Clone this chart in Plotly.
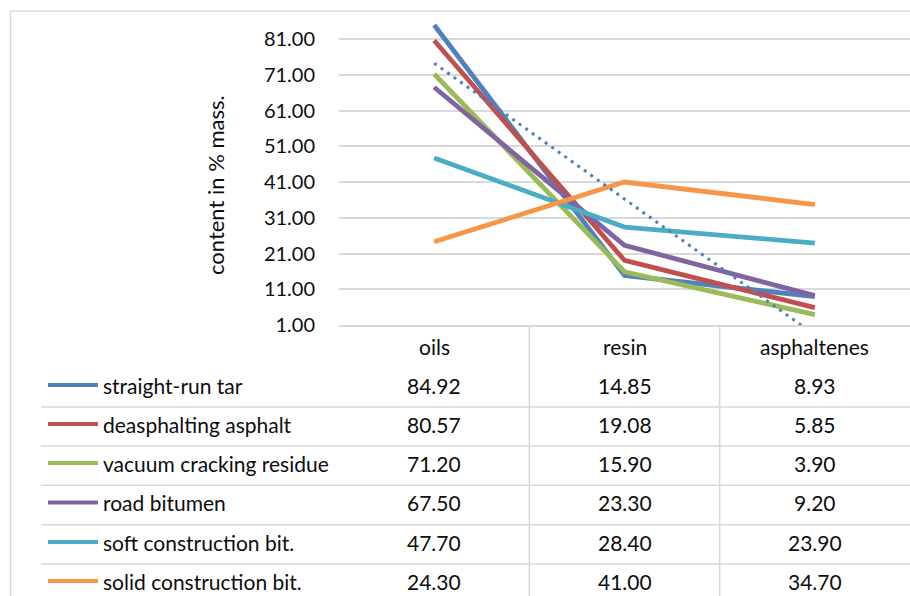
import numpy as np
import plotly.graph_objects as go

# Group composition of the residues (content in % mass.)
categories = ["oils", "resin", "asphaltenes"]
series_names = [
    "straight-run tar",
    "deasphalting asphalt",
    "vacuum cracking residue",
    "road bitumen",
    "soft construction bit.",
    "solid construction bit.",
]
straight_run_tar = [84.92, 14.85, 8.93]
deasphalting_asphalt = [80.57, 19.08, 5.85]
vacuum_cracking_residue = [71.20, 15.90, 3.90]
road_bitumen = [67.50, 23.30, 9.20]
soft_construction_bit = [47.70, 28.40, 23.90]
solid_construction_bit = [24.30, 41.00, 34.70]
y_ticks = [1, 11, 21, 31, 41, 51, 61, 71, 81]

series_values = [
    straight_run_tar,
    deasphalting_asphalt,
    vacuum_cracking_residue,
    road_bitumen,
    soft_construction_bit,
    solid_construction_bit,
]
colors = ["#4F81BD", "#C0504D", "#9BBB59", "#8064A2", "#4BACC6", "#F79646"]

W, H = 910, 596
L, R, T, B = 339, 0, 11, 271
plot_w = W - L - R
plot_h = H - T - B
y_min = 1
y_max = 1 + plot_h / 3.575

FONT = "Lato"
TXT = "#0d0d0d"
GRID = "#D9D9D9"
TABLE_SIZE = 21


def px(x):
    return (x - L) / plot_w


def py(y):
    return (H - B - y) / plot_h


fig = go.Figure()
xi = list(range(len(categories)))
for name, vals, col in zip(series_names, series_values, colors):
    fig.add_trace(go.Scatter(
        x=xi, y=vals, mode="lines", name=name,
        line=dict(color=col, width=4.8), showlegend=False,
    ))

# Linear trend line of straight-run tar
xs = np.array([1, 2, 3], dtype=float)
k, c = np.polyfit(xs, np.array(straight_run_tar), 1)
fig.add_trace(go.Scatter(
    x=xs - 1, y=k * xs + c, mode="lines",
    line=dict(color="#4F81BD", width=3, dash="3px,5px"), showlegend=False,
))

shapes = []
annotations = []

# chart border (left and top)
shapes.append(dict(type="line", xref="paper", yref="paper",
                   x0=px(10.5), x1=px(W + 5), y0=py(11), y1=py(11),
                   line=dict(color=GRID, width=1.5)))
shapes.append(dict(type="line", xref="paper", yref="paper",
                   x0=px(10.5), x1=px(10.5), y0=py(11), y1=py(H + 5),
                   line=dict(color=GRID, width=1.5)))

# data table: column separators
for b in [0.5, 1.5]:
    shapes.append(dict(type="line", xref="x", yref="paper",
                       x0=b, x1=b, y0=0, y1=py(H + 5),
                       line=dict(color=GRID, width=1.5)))

row_y = [385, 424, 463, 502.5, 542, 581]
header_y = 346
for i in range(1, len(row_y)):
    yl = (row_y[i - 1] + row_y[i]) / 2 + 2.5
    shapes.append(dict(type="line", xref="paper", yref="paper",
                       x0=px(41), x1=px(W + 5), y0=py(yl), y1=py(yl),
                       line=dict(color=GRID, width=1.5)))

# header row
for j, cat in enumerate(categories):
    annotations.append(dict(x=j, y=py(header_y), xref="x", yref="paper",
                            text=cat, showarrow=False,
                            font=dict(family=FONT, size=TABLE_SIZE, color=TXT),
                            xanchor="center", yanchor="middle"))

# legend keys, names and values
for i, (name, vals, col) in enumerate(zip(series_names, series_values, colors)):
    yy = row_y[i]
    shapes.append(dict(type="line", xref="paper", yref="paper",
                       x0=px(48), x1=px(98), y0=py(yy), y1=py(yy),
                       line=dict(color=col, width=4)))
    annotations.append(dict(x=px(101), y=py(yy), xref="paper", yref="paper",
                            text=name, showarrow=False,
                            font=dict(family=FONT, size=TABLE_SIZE, color=TXT),
                            xanchor="left", yanchor="middle"))
    for j, v in enumerate(vals):
        annotations.append(dict(x=j, y=py(yy), xref="x", yref="paper",
                                text=f"{v:.2f}", showarrow=False,
                                font=dict(family=FONT, size=TABLE_SIZE, color=TXT),
                                xanchor="center", yanchor="middle"))

# y-axis title
annotations.append(dict(x=px(215), y=py(185), xref="paper", yref="paper",
                        text="content in % mass.", textangle=-90, showarrow=False,
                        font=dict(family=FONT, size=22, color=TXT),
                        xanchor="center", yanchor="middle"))

fig.update_layout(
    width=W, height=H,
    margin=dict(l=L, r=R, t=T, b=B, pad=0),
    paper_bgcolor="white", plot_bgcolor="white",
    shapes=shapes, annotations=annotations,
    xaxis=dict(range=[-0.5, 2.5], showticklabels=False, showgrid=False,
               zeroline=False, showline=True, linecolor=GRID, linewidth=1.5,
               fixedrange=True),
    yaxis=dict(range=[y_min, y_max], tickvals=y_ticks,
               ticktext=[f"{t:.2f}" for t in y_ticks],
               showgrid=True, gridcolor=GRID, gridwidth=1.5,
               zeroline=False, showline=False, ticks="",
               ticklabelstandoff=23,
               tickfont=dict(family=FONT, size=20, color=TXT),
               fixedrange=True),
    showlegend=False,
)

fig.write_html("out.html")
